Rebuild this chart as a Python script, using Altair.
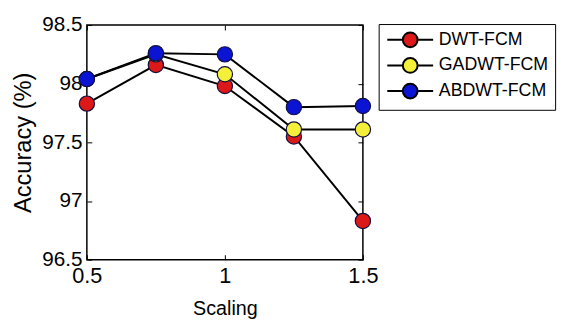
import altair as alt
import pandas as pd

scaling = [0.5, 0.75, 1.0, 1.25, 1.5]
series_names = ["DWT-FCM", "GADWT-FCM", "ABDWT-FCM"]
dwt = [97.83, 98.16, 97.98, 97.55, 96.83]
gadwt = [98.04, 98.25, 98.08, 97.61, 97.61]
abdwt = [98.04, 98.26, 98.25, 97.80, 97.81]
colors = ["#dc1818", "#f4f03a", "#0c14d4"]
x_ticks = [0.5, 1.0, 1.5]
y_ticks = [96.5, 97.0, 97.5, 98.0, 98.5]

rows = []
for name, vals in zip(series_names, [dwt, gadwt, abdwt]):
    for xv, yv in zip(scaling, vals):
        rows.append({"Scaling": xv, "Accuracy": yv, "Series": name})
df = pd.DataFrame(rows)

FONT = "Liberation Sans"
W, H = 280, 238
xscale = alt.Scale(domain=[0.5, 1.5], nice=False, zero=False)
yscale = alt.Scale(domain=[96.5, 98.5], nice=False, zero=False)

LEG_PATH = "M-3.1,0H-1M1,0H3.1M-1,0A1,1 0 1,0 1,0A1,1 0 1,0 -1,0Z"

base = alt.Chart(df)

lines = base.mark_line(color="black", strokeWidth=2).encode(
    x=alt.X("Scaling:Q", scale=xscale,
            axis=alt.Axis(orient="bottom", values=x_ticks, format="~g", title="Scaling", grid=False,
                          ticks=False, domain=False, labelFontSize=22, labelFont=FONT,
                          labelColor="black", labelPadding=6, titleFont=FONT,
                          titleFontSize=20, titleFontWeight="normal", titleColor="black",
                          titlePadding=13, labelFlush=False)),
    y=alt.Y("Accuracy:Q", scale=yscale,
            axis=alt.Axis(orient="left", values=y_ticks, format="~g", title="Accuracy (%)", grid=False,
                          ticks=False, domain=False, labelFontSize=21, labelFont=FONT,
                          labelColor="black", labelPadding=5, titleFont=FONT,
                          titleFontSize=24, titleFontWeight="normal", titleColor="black",
                          titlePadding=6, labelFlush=False)),
    detail="Series:N",
)

points = base.mark_point(filled=True, size=240, stroke="#101040", strokeWidth=1.2, opacity=1).encode(
    x=alt.X("Scaling:Q", scale=xscale,
            axis=alt.Axis(orient="top", offset=-H, values=x_ticks, labels=False, domain=False,
                          ticks=True, tickSize=5, tickColor="black", title=None, grid=False)),
    y=alt.Y("Accuracy:Q", scale=yscale,
            axis=alt.Axis(orient="right", offset=-W, values=y_ticks, labels=False, domain=False,
                          ticks=True, tickSize=5, tickColor="black", title=None, grid=False)),
    fill=alt.Fill("Series:N", scale=alt.Scale(domain=series_names, range=colors),
                  legend=alt.Legend(title=None, orient="none", legendX=296, legendY=-1,
                                    symbolType=LEG_PATH, symbolSize=225,
                                    symbolStrokeColor="black", symbolStrokeWidth=2,
                                    labelFontSize=18, labelFont=FONT, labelColor="black",
                                    strokeColor="black", fillColor="white", padding=7,
                                    rowPadding=2, labelOffset=20, symbolOffset=16)),
)

ghost = base.mark_point(opacity=0).encode(
    x=alt.X("Scaling:Q", scale=xscale,
            axis=alt.Axis(orient="bottom", offset=-H, values=x_ticks, labels=False, domain=False,
                          ticks=True, tickSize=5, tickColor="black", title=None, grid=False)),
    y=alt.Y("Accuracy:Q", scale=yscale,
            axis=alt.Axis(orient="left", offset=-W, values=y_ticks, labels=False, domain=False,
                          ticks=True, tickSize=5, tickColor="black", title=None, grid=False)),
)

chart = alt.layer(lines, points, ghost).resolve_axis(x="independent", y="independent").properties(
    width=W, height=H,
    autosize=alt.AutoSizeParams(type="none"),
    padding={"left": 80, "top": 15, "right": 204, "bottom": 63},
    background="white",
).configure_view(stroke="black", strokeWidth=1.5)

chart.save("out.html", embed_options={"renderer": "svg", "actions": False})
